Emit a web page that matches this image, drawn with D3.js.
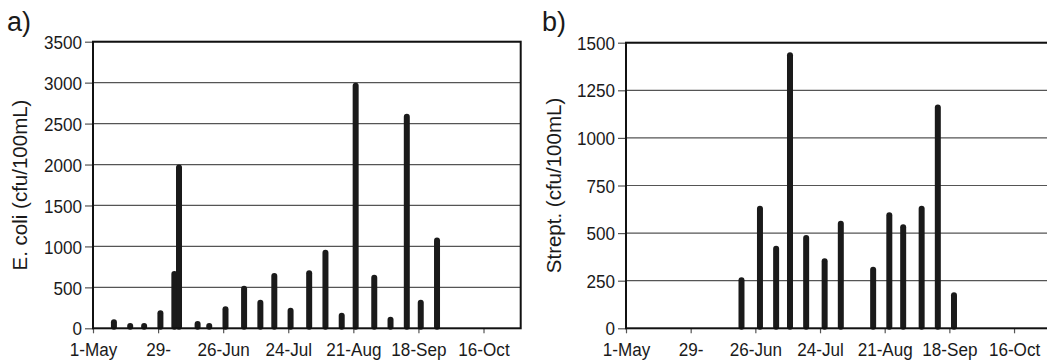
<!DOCTYPE html>
<html>
<head>
<meta charset="utf-8">
<script src="https://cdnjs.cloudflare.com/ajax/libs/d3/7.8.5/d3.min.js"></script>
<style>
  body { margin: 0; background: #fff; }
  svg { display: block; font-family: "Liberation Sans", Arial, sans-serif; }
</style>
</head>
<body>
<svg id="chart" width="1047" height="362"></svg>
<script>
// sample dates (day/month) and counts
var datesA = ["10-May","17-May","23-May","30-May","5-Jun","7-Jun","15-Jun","20-Jun","27-Jun","5-Jul","12-Jul",
              "18-Jul","25-Jul","2-Aug","9-Aug","16-Aug","22-Aug","30-Aug","6-Sep","13-Sep","19-Sep","26-Sep"];
var ecoli = [110, 65, 65, 220, 700, 2000, 90, 65, 270, 520, 350, 675, 250, 710, 960, 190, 3000, 655, 140, 2620, 350, 1110];

var datesB = ["20-Jun","28-Jun","5-Jul","11-Jul","18-Jul","26-Jul","2-Aug","16-Aug","23-Aug","29-Aug","6-Sep","13-Sep","20-Sep"];
var strept = [268, 644, 434, 1450, 490, 368, 565, 323, 609, 546, 644, 1175, 189];

var xTickDates = ["1-May","29-May","26-Jun","24-Jul","21-Aug","18-Sep","16-Oct"];
var xTickLabels = ["1-May","29-","26-Jun","24-Jul","21-Aug","18-Sep","16-Oct"];
var yTicksA = [0, 500, 1000, 1500, 2000, 2500, 3000, 3500];
var yTicksB = [0, 250, 500, 750, 1000, 1250, 1500];

var parse = d3.utcParse("%d-%b-%Y");
function toDate(s) { return parse(s + "-2007"); }

var svg = d3.select("#chart");

function drawPanel(p) {
  var g = svg.append("g");

  var xScale = d3.scaleUtc()
    .domain([toDate("1-May"), toDate("1-Nov")])
    .range([p.left, p.right]);

  var yScale = d3.scaleLinear()
    .domain([0, p.yMax])
    .range([p.bottom, p.top]);

  // gridlines
  g.selectAll("line.grid")
    .data(p.yTicks.filter(function(d){ return d > 0; }))
    .enter()
    .append("line")
    .attr("class", "grid")
    .attr("x1", p.left).attr("x2", p.right)
    .attr("y1", function(d){ return yScale(d); })
    .attr("y2", function(d){ return yScale(d); })
    .attr("stroke", "#555")
    .attr("stroke-width", 1.2);

  var xAxis = d3.axisBottom(xScale)
    .tickValues(xTickDates.map(toDate))
    .tickFormat(function(d, i){ return xTickLabels[i]; })
    .tickSizeInner(5)
    .tickSizeOuter(0);

  var yAxis = d3.axisLeft(yScale)
    .tickValues(p.yTicks)
    .tickFormat(d3.format("d"))
    .tickSizeInner(8)
    .tickSizeOuter(0);

  var gx = g.append("g")
    .attr("transform", "translate(0," + p.bottom + ")")
    .call(xAxis);
  gx.select(".domain").remove();
  gx.selectAll(".tick line").attr("stroke", "#555").attr("stroke-width", 1.2);
  gx.selectAll(".tick text")
    .attr("y", 28).attr("dy", 0)
    .attr("transform", "scale(0.9,1)")
    .attr("font-size", 19)
    .attr("font-family", "Liberation Sans, Arial, sans-serif")
    .attr("fill", "#1a1a1a");

  var gy = g.append("g")
    .attr("transform", "translate(" + p.left + ",0)")
    .call(yAxis);
  gy.select(".domain").remove();
  gy.selectAll(".tick line").attr("stroke", "#555").attr("stroke-width", 1.2);
  gy.selectAll(".tick text")
    .attr("x", -11 / 0.9).attr("dy", "0.35em")
    .attr("transform", "scale(0.9,1)")
    .attr("font-size", 19)
    .attr("font-family", "Liberation Sans, Arial, sans-serif")
    .attr("fill", "#1a1a1a");

  // bars
  g.selectAll("rect.bar")
    .data(p.values)
    .enter()
    .append("rect")
    .attr("class", "bar")
    .attr("x", function(d, i){ return xScale(toDate(p.dates[i])) - 3; })
    .attr("y", function(d){ return yScale(d); })
    .attr("width", 6)
    .attr("height", function(d){ return yScale(0) - yScale(d) + 1.5; })
    .attr("rx", 3)
    .attr("fill", "#1a1a1a");

  // frame
  g.append("rect")
    .attr("x", p.left).attr("y", p.top)
    .attr("width", p.right - p.left)
    .attr("height", p.bottom - p.top)
    .attr("fill", "none")
    .attr("stroke", "#111")
    .attr("stroke-width", 2);

  g.append("text")
    .attr("transform", "translate(" + p.titleX + "," + ((p.top + p.bottom) / 2) + ") rotate(-90)")
    .attr("text-anchor", "middle")
    .attr("font-size", 20.5)
    .attr("fill", "#1a1a1a")
    .text(p.title);

  g.append("text")
    .attr("x", p.labelX).attr("y", 31)
    .attr("font-size", 27)
    .attr("fill", "#1a1a1a")
    .text(p.label);
}

drawPanel({ left: 93, right: 520.7, top: 41.7, bottom: 328.3, yMax: 3500, yTicks: yTicksA,
            dates: datesA, values: ecoli, title: "E. coli (cfu/100mL)", titleX: 27, label: "a)", labelX: 7 });

drawPanel({ left: 626, right: 1051, top: 42.7, bottom: 328.3, yMax: 1500, yTicks: yTicksB,
            dates: datesB, values: strept, title: "Strept. (cfu/100mL)", titleX: 561, label: "b)", labelX: 542 });
</script>
</body>
</html>
